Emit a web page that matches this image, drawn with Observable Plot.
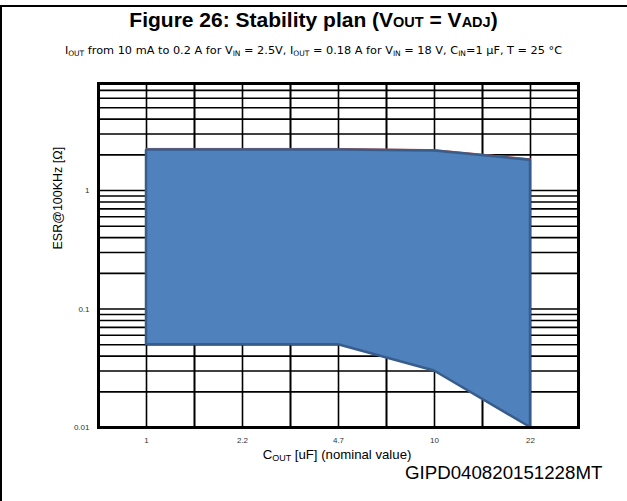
<!DOCTYPE html>
<html>
<head>
<meta charset="utf-8">
<script src="https://cdn.jsdelivr.net/npm/d3@7"></script>
<script src="https://cdn.jsdelivr.net/npm/@observablehq/plot@0.6"></script>
<style>
  html, body { margin: 0; padding: 0; background: #fff; }
  #wrap { position: relative; width: 627px; height: 501px; overflow: hidden; background: #fff; }
  #wrap svg { position: absolute; left: 0; top: 0; }
  .txt { position: absolute; white-space: nowrap; color: #000; }
  #title { left: 0; width: 627px; text-align: center; top: 8px; font: bold 21px "Liberation Sans", Arial, sans-serif; }
  #title .s { font-size: 14.5px; }
  #subtitle { left: 0; width: 627px; text-align: center; top: 44px; font: 11.3px "DejaVu Sans", sans-serif; }
  #subtitle sub { font-size: 7.5px; vertical-align: -2px; line-height: 0; }
  #xlabel { left: 0; width: 674px; text-align: center; top: 447px; font: 13.2px "Liberation Sans", Arial, sans-serif; }
  #xlabel sub { font-size: 9px; vertical-align: -2px; line-height: 0; }
  #caption { left: 405px; top: 462px; font: 18.7px "Liberation Sans", Arial, sans-serif; }
  #topline { position: absolute; left: 0; top: 5px; width: 627px; height: 2px; background: #000; }
  #leftline { position: absolute; left: 0; top: 5px; width: 2px; height: 496px; background: #000; }
</style>
</head>
<body>
<div id="wrap">
  <div id="topline"></div>
  <div id="leftline"></div>
  <div id="chart"></div>
  <div class="txt" id="title">Figure 26: Stability plan (V<span class="s">OUT</span> = V<span class="s">ADJ</span>)</div>
  <div class="txt" id="subtitle">I<sub>OUT</sub> from 10 mA to 0.2 A for V<sub>IN</sub> = 2.5V, I<sub>OUT</sub> = 0.18 A for V<sub>IN</sub> = 18 V, C<sub>IN</sub>=1 μF, T = 25 °C</div>
  <div class="txt" id="xlabel">C<sub>OUT</sub> [uF] (nominal value)</div>
  <div class="txt" id="caption">GIPD040820151228MT</div>
</div>
<script>
// Categories: nominal output capacitance (uF)
const capacitance = ["1", "2.2", "4.7", "10", "22"];
// Upper ESR limit of the stable region (ohm)
const esrMax = [2.2, 2.2, 2.2, 2.15, 1.8];
// Lower ESR limit of the stable region (ohm)
const esrMin = [0.05, 0.05, 0.05, 0.03, 0.01];
// Y tick labels (log scale, decades)
const yTicks = [0.01, 0.1, 1];
// Horizontal grid lines (log minor ticks)
const yGrid = [0.01, 0.02, 0.03, 0.04, 0.05, 0.06, 0.07, 0.08, 0.09,
               0.1, 0.2, 0.3, 0.4, 0.5, 0.6, 0.7, 0.8, 0.9,
               1, 2, 3, 4, 5, 6, 7];
const yLabel = "ESR@100KHz [Ω]";

const data = capacitance.map((c, i) => ({c, lo: esrMin[i], hi: esrMax[i]}));

const halfStep = 48;
const chart = Plot.plot({
  width: 627,
  height: 501,
  marginLeft: 98,
  marginRight: 49,
  marginTop: 83,
  marginBottom: 74,
  style: {fontFamily: "'Liberation Sans', Arial, sans-serif", fontSize: "8px", color: "#333", background: "transparent"},
  x: {type: "point", domain: capacitance, padding: 0.5, tickSize: 0, tickPadding: 10, label: null},
  y: {type: "log", domain: [0.01, 8], ticks: yTicks, tickFormat: d => String(d), tickSize: 0, tickPadding: 9, label: null},
  marks: [
    Plot.ruleY(yGrid, {stroke: "#000", strokeWidth: 1.6}),
    Plot.ruleX(capacitance, {stroke: "#000", strokeWidth: 1.6}),
    Plot.ruleX(capacitance, {stroke: "#000", strokeWidth: 1.6, dx: halfStep}),
    Plot.ruleX(capacitance, {stroke: "#000", strokeWidth: 1.6, dx: -halfStep}),
    Plot.lineY(data, {x: "c", y: "hi", stroke: "#c0504d", strokeWidth: 1, dy: -1.5}),
    Plot.areaY(data, {x: "c", y1: "lo", y2: "hi", fill: "#4F81BD", stroke: "#385D8A", strokeWidth: 2.5, strokeLinejoin: "miter"}),
    Plot.frame({stroke: "#000", strokeWidth: 3}),
    Plot.text([yLabel], {frameAnchor: "left", rotate: -90, dx: -41, dy: -6, fontSize: 12.5, fill: "#000"})
  ]
});
document.getElementById("chart").appendChild(chart);
</script>
</body>
</html>
